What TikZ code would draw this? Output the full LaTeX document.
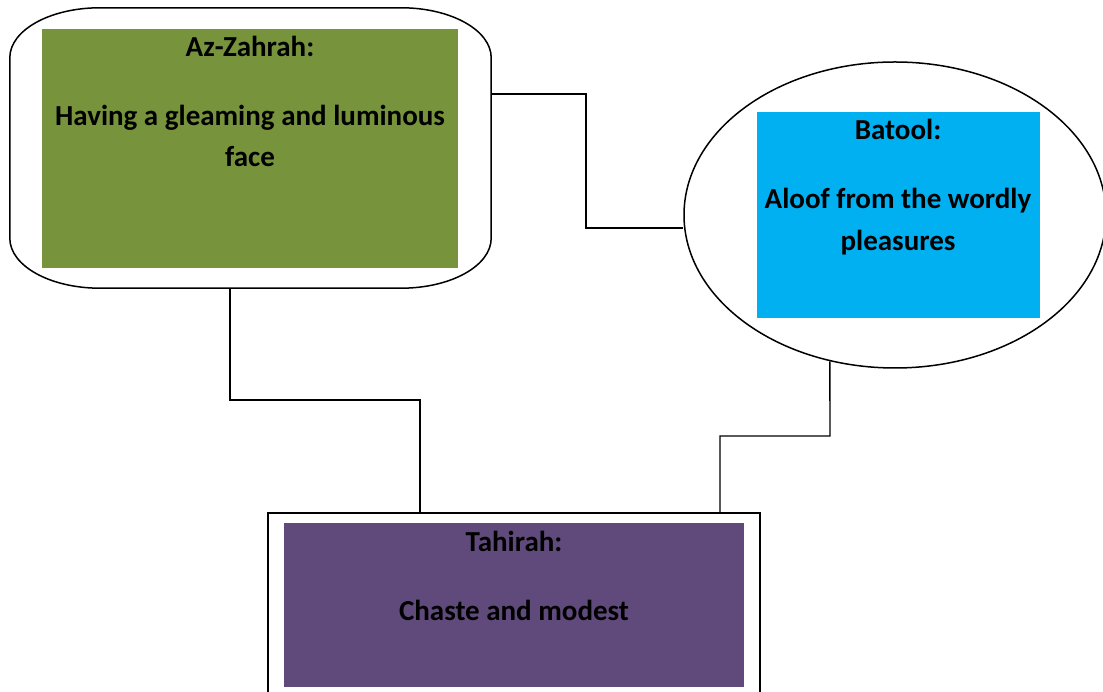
\documentclass[tikz,border=0pt]{standalone}
\usepackage{fontspec}
\setmainfont{Carlito}
\usetikzlibrary{shapes.geometric,calc}
\definecolor{zgreen}{HTML}{77933C}
\definecolor{bblue}{HTML}{00B0F0}
\definecolor{tpurple}{HTML}{604A7B}
\tikzset{
  outline/.style={draw=black,line width=1.5pt},
  fillbox/.style={rectangle,draw=none,inner sep=0pt},
  lbl/.style={anchor=base,inner sep=0pt,font=\fontsize{29}{40}\selectfont\bfseries},
  conn/.style={draw=black,line width=1.4pt}
}
\begin{document}
\begin{tikzpicture}[x=1pt,y=1pt]
\clip (0,0) rectangle (1103,692);
\fill[white] (0,0) rectangle (1103,692);
% Az-Zahrah rounded box
\node[fillbox,minimum width=481pt,minimum height=280pt] (zb) at (250.5,544) {};
\draw[outline] ([xshift=90pt]zb.north west) -- ([xshift=-90pt]zb.north east)
  arc[start angle=90,end angle=0,x radius=90pt,y radius=50pt]
  -- ([yshift=50pt]zb.south east)
  arc[start angle=0,end angle=-90,x radius=90pt,y radius=50pt]
  -- ([xshift=90pt]zb.south west)
  arc[start angle=-90,end angle=-180,x radius=90pt,y radius=50pt]
  -- ([yshift=-50pt]zb.north west)
  arc[start angle=180,end angle=90,x radius=90pt,y radius=50pt] -- cycle;
\node[fillbox,fill=zgreen,minimum width=416pt,minimum height=239pt] (zg) at (250,543.5) {};
\node[lbl] (zt1) at (250,635) {Az-Zahrah:};
\node[lbl] (zt2) at (250,566) {Having a gleaming and luminous};
\node[lbl] (zt3) at (250,525) {face};
% Batool ellipse
\node[ellipse,outline,fill=white,minimum width=422pt,minimum height=306pt,inner sep=0pt] (bt) at (895,477) {};
\node[fillbox,fill=bblue,minimum width=283pt,minimum height=206pt] (bb) at (898.5,477) {};
\node[lbl] (bt1) at (898,552) {Batool:};
\node[lbl] (bt2) at (898,483) {Aloof from the wordly};
\node[lbl] (bt3) at (898,441) {pleasures};
% Tahirah box
\node[rectangle,outline,fill=white,minimum width=492pt,minimum height=200pt,inner sep=0pt] (tb) at (514,79) {};
\node[fillbox,fill=tpurple,minimum width=460pt,minimum height=164pt] (tp) at (514,87) {};
\node[lbl] (tt1) at (514,140) {Tahirah:};
\node[lbl] (tt2) at (514,71) {Chaste and modest};
% connectors
\coordinate (c1a) at ($(zb.east)+(0,54)$);
\draw[conn] (c1a) -- (586,598) -- (586,464) -- (586,464 -| bt.west);
\draw[conn] (230,404 |- zb.south) -- (230,292) -- (420,292) -- (420,292 |- tb.north);
\draw[conn] (bt.246) -- (830,256) -- (720,256) -- (720,256 |- tb.north);
\end{tikzpicture}
\end{document}
